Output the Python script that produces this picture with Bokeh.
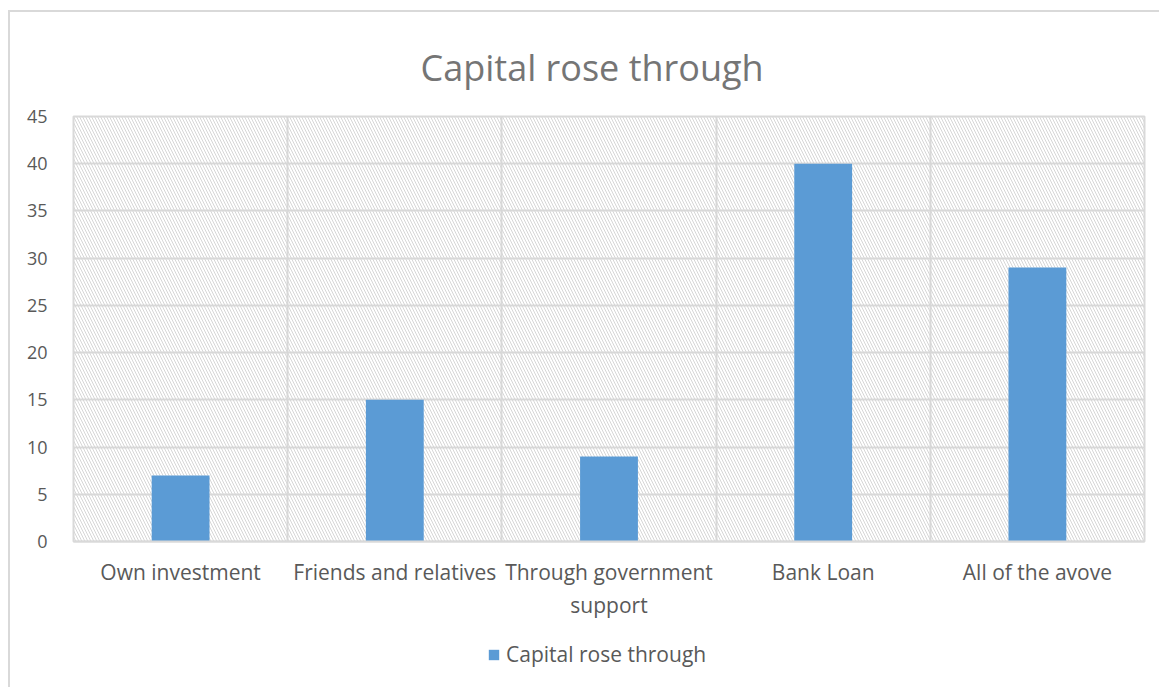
from bokeh.plotting import figure
from bokeh.layouts import column
from bokeh.models import (ColumnDataSource, FixedTicker, BoxAnnotation, Legend, LegendItem, Range1d)
from bokeh.embed import file_html
from bokeh.resources import INLINE

categories = ["Own investment", "Friends and relatives", "Through government\nsupport", "Bank Loan", "All of the avove"]
values = [7, 15, 9, 40, 29]
series_name = "Capital rose through"
y_ticks = [0, 5, 10, 15, 20, 25, 30, 35, 40, 45]

xs = list(range(len(categories)))
src = ColumnDataSource(dict(x=xs, top=values))

FONT = "Open Sans"
TXT = "#595959"
GRID = "#d9d9d9"
BAR = "#5b9bd5"

p = figure(width=1151, height=610, output_backend="svg", toolbar_location=None,
           x_range=Range1d(-0.5, len(categories) - 0.5), y_range=Range1d(0, 45),
           min_border_left=63, min_border_right=17, min_border_top=104, min_border_bottom=81)
p.styles = {"margin-left": "8px", "margin-top": "10px",
            "border-left": "2px solid #d9d9d9", "border-top": "2px solid #d9d9d9"}

p.title.text = "Capital rose through"
p.title.align = "left"
p.title.offset = 347
p.title.text_font = FONT
p.title.text_font_size = "36px"
p.title.text_font_style = "normal"
p.title.text_color = "#757575"
p.title.standoff = 50

p.add_layout(BoxAnnotation(level="underlay", fill_color=None, line_color=None,
                           hatch_pattern="\\", hatch_color="#d6d6d6", hatch_scale=6, hatch_weight=1))

r = p.vbar(x="x", top="top", width=0.27, source=src, color=BAR, line_color=None)

p.outline_line_color = GRID
p.outline_line_width = 2

p.xaxis.ticker = FixedTicker(ticks=xs)
p.xaxis.major_label_overrides = {i: c for i, c in enumerate(categories)}
p.yaxis.ticker = FixedTicker(ticks=y_ticks)
for ax in (p.xaxis[0], p.yaxis[0]):
    ax.major_tick_line_color = None
    ax.minor_tick_line_color = None
    ax.major_label_text_font = FONT
    ax.major_label_text_color = TXT
p.xaxis.major_label_text_font_size = "21px"
p.yaxis.major_label_text_font_size = "18px"
p.xaxis.axis_line_color = GRID
p.xaxis.axis_line_width = 2
p.yaxis.axis_line_color = None
p.xaxis.major_label_standoff = 10
p.yaxis.major_label_standoff = 20

p.xgrid.ticker = FixedTicker(ticks=[i + 0.5 for i in xs[:-1]])
p.xgrid.grid_line_color = GRID
p.xgrid.grid_line_width = 2
p.ygrid.ticker = FixedTicker(ticks=y_ticks)
p.ygrid.grid_line_color = GRID
p.ygrid.grid_line_width = 2

# legend strip below the chart (bars drawn off-range; only the legend shows)
p2 = figure(width=1151, height=67, output_backend="svg", toolbar_location=None,
            x_axis_type=None, y_axis_type=None, min_border=0,
            x_range=Range1d(100, 101), y_range=Range1d(100, 101))
p2.styles = {"margin-left": "8px", "border-left": "2px solid #d9d9d9"}
p2.outline_line_color = None
p2.xgrid.visible = False
p2.ygrid.visible = False
r2 = p2.vbar(x="x", top="top", width=0.27, source=src, color=BAR, line_color=None)
legend = Legend(items=[LegendItem(label=series_name, renderers=[r2])], orientation="horizontal",
                location=(414, 19), border_line_color=None, background_fill_alpha=0,
                label_text_font=FONT, label_text_font_size="21px", label_text_color=TXT,
                glyph_width=13, glyph_height=13, margin=0, padding=0, label_standoff=6)
p2.add_layout(legend)

layout = column(p, p2, spacing=0)
open("out.html", "w").write(file_html(layout, INLINE))
